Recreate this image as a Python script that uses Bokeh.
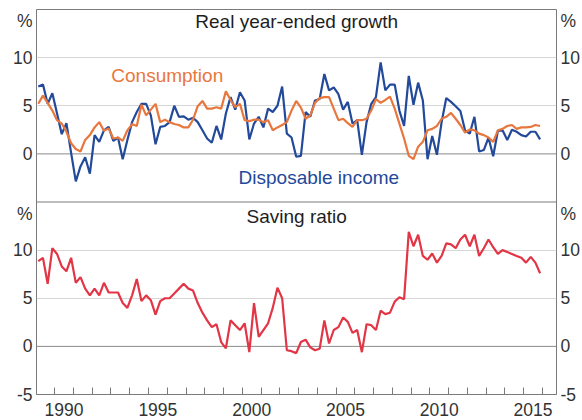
from bokeh.plotting import figure
from bokeh.models import Range1d, LinearAxis, FixedTicker, Span, Label, ColumnDataSource
from bokeh.embed import file_html
from bokeh.resources import INLINE

# Quarterly observations, 1989 Q1 to 2015 Q4
quarters = [f"{y}Q{q}" for y in range(1989, 2016) for q in range(1, 5)]

consumption = [5.2, 6.05, 5.3, 4.5, 3.5, 3.15, 2.3, 1.1, 0.5, 0.25, 1.45, 1.95, 2.75, 3.3, 2.4,
               2.65, 1.6, 1.7, 1.35, 2.45, 3.1, 2.9, 5.1, 4.0, 4.6, 5.2, 3.3, 3.55, 3.3, 3.1,
               3.0, 2.75, 2.75, 3.55, 4.95, 5.5, 4.7, 4.7,
               4.85, 4.7, 6.5, 5.6, 4.85, 5.2, 3.5, 3.4, 3.55, 3.55, 3.3, 3.5, 2.45, 2.75, 3.0,
               3.3, 4.5, 5.5, 4.8, 3.65, 4.0, 5.3, 5.8, 5.9, 5.9, 4.7, 3.5, 3.65, 3.2, 2.8,
               3.5, 3.5, 3.65, 4.5, 5.7,
               5.3, 5.6, 5.95, 4.7, 3.15, 1.6, -0.2, -0.55, 0.75, 1.25, 2.45, 2.6, 2.9, 3.65,
               3.85, 4.25, 3.65, 3.0, 2.2, 2.55, 2.45, 2.1, 1.95, 1.7, 1.25, 2.45, 2.6, 2.9,
               3.0, 2.6, 2.75, 2.75, 2.8, 3.0, 2.9]

disposable_income = [7.0, 7.2, 5.2, 6.3, 4.2, 2.05, 3.2, 0.1, -2.85, -1.3, -0.35, -2.05, 1.95,
                     1.25, 2.45, 2.8, 1.35, 1.7, -0.55, 1.45, 3.3, 4.35, 5.2, 5.2, 4.0, 1.0,
                     2.8, 2.9, 3.3, 5.0, 3.85, 3.9, 3.55, 3.75, 3.3, 2.45, 1.6, 1.15,
                     2.9, 1.5, 4.2, 5.9, 4.6, 6.4, 5.55, 1.5, 3.15, 3.85, 2.75, 4.7, 4.35,
                     5.0, 7.0, 2.1, 1.7, -0.3, -0.2, 4.35, 3.85, 5.55, 5.7, 8.3, 6.6, 6.9,
                     6.2, 4.6, 5.4, 3.15, 3.5, -0.1, 3.3, 5.2, 5.9,
                     9.5, 6.6, 7.2, 7.2, 4.5, 2.9, 8.1, 5.1, 7.4, 5.55, -0.55, 1.85, -0.1,
                     3.3, 5.8, 5.4, 4.95, 4.45, 2.45, 2.1, 3.85, 0.25, 0.4, 1.7, -0.25, 2.4,
                     2.45, 1.45, 2.5, 2.3, 1.95, 1.8, 2.3, 2.3, 1.5]

saving_ratio = [8.85, 9.2, 6.5, 10.2, 9.6, 8.3, 7.8, 9.2, 6.6, 7.2, 6.0, 5.3, 6.0, 5.3, 6.6,
                5.6, 5.6, 5.6, 4.5, 4.0, 5.3, 7.0, 4.7, 5.3, 4.8, 3.3, 4.7, 5.0, 5.0, 5.5,
                6.0, 6.5, 6.0, 5.8, 4.5, 3.5, 2.7, 2.0, 2.3, 0.45, -0.2, 2.7, 2.2, 1.7, 2.4,
                -0.6, 4.5, 1.0, 1.7, 2.4, 4.0, 6.1, 5.0,
                -0.4, -0.5, -0.7, 0.45, 0.7, -0.1, -0.4, -0.25, 2.7, 0.3, 1.7, 2.0, 3.0,
                2.55, 1.4, 1.7, -0.6, 2.3, 2.2, 1.7, 3.7, 3.35, 3.5, 4.65, 5.1, 4.9, 11.9,
                10.4, 11.6, 9.4, 9.0, 9.65, 8.7, 9.4, 10.7, 10.6, 10.2, 11.1, 11.6, 10.4,
                11.6, 9.4, 10.2, 11.1, 10.3, 9.6, 10.0, 9.8, 9.6, 9.4, 9.2, 8.7, 9.3, 8.7, 7.6]

year_labels = ["1990", "1995", "2000", "2005", "2010", "2015"]
panel_ticks = ["-5", "0", "5", "10"]

# decimal-year position of each quarter (mid-quarter)
t = [int(s[:4]) + (int(s[5]) - 0.5) / 4 for s in quarters]

FONT = "Liberation Sans"
FRAME = "#7a7a7a"
ORANGE = "#E8773D"
BLUE = "#22499A"
RED = "#E23545"

p = figure(width=582, height=420, output_backend="svg", toolbar_location=None,
           x_range=Range1d(1989.03, 2016.75), y_range=Range1d(-5, 35),
           min_border_left=36, min_border_right=24, min_border_top=9, min_border_bottom=26)
# upper panel has its own -5..15 scale occupying the top half of the frame
p.extra_y_ranges = {"top": Range1d(-25, 15)}

p.outline_line_color = FRAME
p.outline_line_width = 1
p.background_fill_color = "white"
p.border_fill_color = "white"

# y tick labels (left + right) for both panels
ytick_vals = [-5, 0, 5, 10, 13.8, 20, 25, 30, 33.8]
ytick_text = panel_ticks + ["%"] + panel_ticks[1:] + ["%"]
overrides = {v: s for v, s in zip(ytick_vals, ytick_text)}

p.yaxis.ticker = FixedTicker(ticks=ytick_vals)
p.yaxis.major_label_overrides = overrides
right = LinearAxis(ticker=FixedTicker(ticks=ytick_vals), major_label_overrides=overrides)
p.add_layout(right, "right")
for ax in (p.yaxis[0], right):
    ax.axis_line_color = None
    ax.major_tick_line_color = None
    ax.minor_tick_line_color = None
    ax.major_tick_in = 0
    ax.major_tick_out = 0
    ax.major_label_standoff = 4
    ax.major_label_text_font = FONT
    ax.major_label_text_font_size = "17.5px"
    ax.major_label_text_color = "#333333"

# x axis: year ticks inward at year boundaries, labels mid-year
label_pos = [int(s) + 0.5 for s in year_labels]
xt = FixedTicker(ticks=label_pos, minor_ticks=list(range(1990, 2017)))
p.xaxis.ticker = xt
p.xaxis.major_label_overrides = {v: s for v, s in zip(label_pos, year_labels)}
p.xaxis.major_tick_in = 0
p.xaxis.major_tick_out = 0
p.xaxis.minor_tick_in = 7
p.xaxis.minor_tick_out = 0
p.xaxis.minor_tick_line_color = FRAME
p.xaxis.axis_line_color = FRAME
p.xaxis.major_label_standoff = 8
p.xaxis.major_label_text_font = FONT
p.xaxis.major_label_text_font_size = "17.5px"
p.xaxis.major_label_text_color = "#333333"

p.xgrid.visible = False
p.ygrid.ticker = FixedTicker(ticks=[5, 10, 25, 30])
p.ygrid.grid_line_color = "#d6d6d6"
p.ygrid.grid_line_width = 1

p.add_layout(Span(location=0, dimension="width", line_color="#8a8a8a", line_width=1, level="underlay"))
p.add_layout(Span(location=0, dimension="width", line_color="#8a8a8a", line_width=1,
                  level="underlay", y_range_name="top"))
p.add_layout(Span(location=15, dimension="width", line_color=FRAME, line_width=1))

src_top = ColumnDataSource(dict(t=t[:len(consumption)], c=consumption))
src_di = ColumnDataSource(dict(t=t[:len(disposable_income)], d=disposable_income))
src_s = ColumnDataSource(dict(t=t[:len(saving_ratio)], s=saving_ratio))

p.line("t", "d", source=src_di, line_color=BLUE, line_width=2.2, y_range_name="top")
p.line("t", "c", source=src_top, line_color=ORANGE, line_width=2.2, y_range_name="top")
p.line("t", "s", source=src_s, line_color=RED, line_width=2.2)

def lab(x, y, text, color, rng="default"):
    p.add_layout(Label(x=x, y=y, text=text, text_font=FONT, text_font_size="19px",
                       text_color=color, text_align="center", text_baseline="alphabetic",
                       y_range_name=rng))

lab(2002.9, 13.73, "Real year-ended growth", "#1e1e1e", "top")
lab(1996.0, 8.1, "Consumption", ORANGE, "top")
lab(2004.08, -2.45, "Disposable income", BLUE, "top")
lab(2002.9, 13.47, "Saving ratio", "#1e1e1e")

open("out.html", "w").write(file_html(p, INLINE))
